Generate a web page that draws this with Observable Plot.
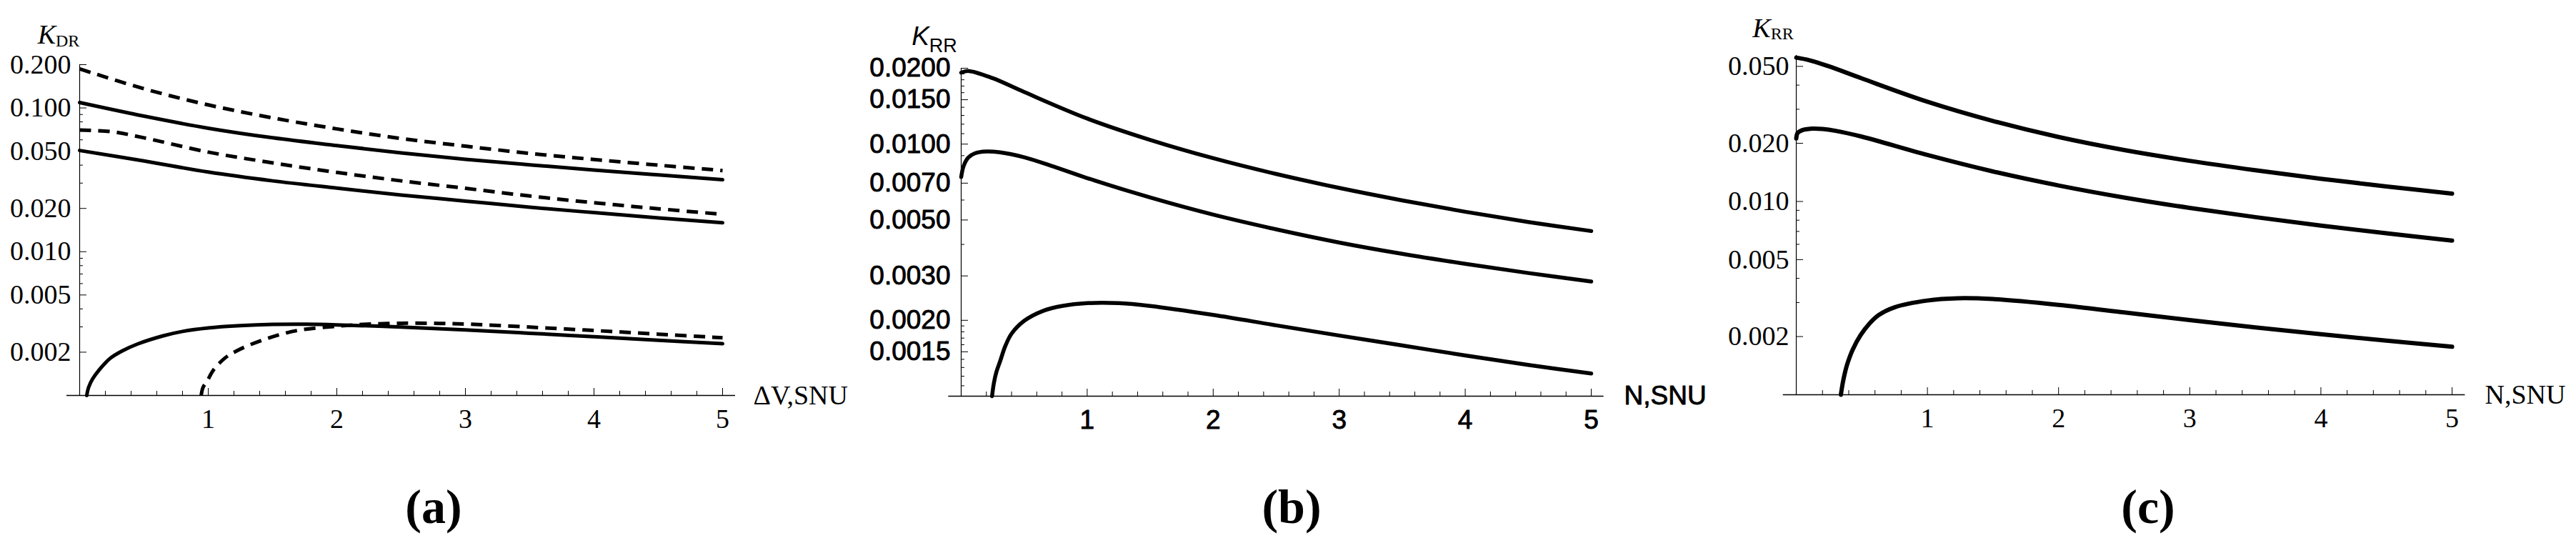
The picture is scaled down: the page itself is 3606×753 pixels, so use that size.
<!DOCTYPE html>
<html>
<head>
<meta charset="utf-8">
<script src="https://cdn.jsdelivr.net/npm/d3@7"></script>
<script src="https://cdn.jsdelivr.net/npm/@observablehq/plot@0.6"></script>
<style>
  html, body { margin: 0; padding: 0; background: #fff; }
  #fig { position: relative; width: 3606px; height: 753px; background: #fff; overflow: hidden; }
  .panel { position: absolute; top: 0; }
  .panel svg { display: block; max-width: none; }
  .cap { position: absolute; top: 675px; width: 240px; text-align: center;
         font-family: "Liberation Serif", "Times New Roman", serif; font-weight: bold;
         font-size: 68px; line-height: 1; color: #000; }
</style>
</head>
<body>
<div id="fig"></div>
<script>
// ---------- shared axis values ----------
const xMajorTicks = [1, 2, 3, 4, 5];
const xMinorTicks = [0.2, 0.4, 0.6, 0.8, 1.2, 1.4, 1.6, 1.8, 2.2, 2.4, 2.6, 2.8,
                     3.2, 3.4, 3.6, 3.8, 4.2, 4.4, 4.6, 4.8];
const xDomain = [0, 5];
const xAxisRange = [-0.1, 5.1];

// ---------- panel (a): K_DR vs ΔV ----------
const aYDomain = [0.001, 0.2];
const aYMajor = [0.002, 0.005, 0.01, 0.02, 0.05, 0.1, 0.2];
const aYMinor = [0.003, 0.004, 0.006, 0.007, 0.008, 0.009, 0.03, 0.04, 0.06, 0.07, 0.08, 0.09];
const aGridX = [0, 0.5, 1, 1.5, 2, 2.5, 3, 3.5, 4, 4.5, 5];
const aDashedUpper = [0.187, 0.136, 0.105, 0.0853, 0.0715, 0.0613, 0.0542, 0.0483, 0.0438, 0.0400, 0.0367];
const aSolidUpper  = [0.109, 0.0877, 0.0723, 0.0620, 0.0547, 0.0487, 0.0439, 0.0402, 0.0370, 0.0342, 0.0317];
const aDashedMidX  = [0, 0.25, 0.5, 1, 1.5, 2, 2.5, 3, 3.5, 4, 4.5, 5];
const aDashedMid   = [0.0702, 0.0683, 0.0620, 0.0493, 0.0415, 0.0356, 0.0311, 0.0276, 0.0244, 0.0219, 0.0199, 0.0182];
const aSolidMid    = [0.0506, 0.0428, 0.0358, 0.0311, 0.0277, 0.0248, 0.0225, 0.0204, 0.0187, 0.0172, 0.0159];
const aSolidLowX   = [0.055, 0.07, 0.1, 0.15, 0.24, 0.33, 0.45, 0.65, 0.8, 1, 1.25, 1.5, 1.75, 2, 2.5, 3, 3.5, 4, 4.5, 5];
const aSolidLow    = [0.001, 0.00114, 0.0013, 0.0015, 0.00182, 0.00204, 0.00228, 0.0026, 0.00279, 0.00295, 0.00306, 0.00312, 0.00313, 0.0031, 0.00299, 0.00286, 0.00271, 0.00256, 0.00242, 0.00229];
const aDashedLowX  = [0.945, 0.96, 0.99, 1.04, 1.13, 1.22, 1.34, 1.5, 1.7, 2, 2.2, 2.5, 2.8, 3, 3.5, 4, 4.5, 5];
const aDashedLow   = [0.001, 0.00114, 0.00125, 0.0015, 0.00182, 0.00204, 0.00228, 0.00256, 0.00284, 0.00303, 0.00312, 0.00318, 0.00317, 0.00314, 0.00299, 0.00283, 0.00267, 0.00252];

// ---------- panel (b): K_RR vs N (sans-serif) ----------
const bYDomain = [0.001, 0.02];
const bYMajor = [0.0015, 0.002, 0.003, 0.005, 0.007, 0.01, 0.015, 0.02];
const bYMinor = [0.0011, 0.0012, 0.0013, 0.0014, 0.0016, 0.0017, 0.0018, 0.0019, 0.004, 0.006,
                 0.008, 0.009, 0.011, 0.012, 0.013, 0.014, 0.016, 0.017, 0.018, 0.019];
const bTopX = [0, 0.06, 0.25, 0.5, 1, 1.5, 2, 2.5, 3, 3.5, 4, 4.5, 5];
const bTop  = [0.0192, 0.0195, 0.01826, 0.01609, 0.01263, 0.01039, 0.00879, 0.00761, 0.0067, 0.00598, 0.00539, 0.00491, 0.00452];
const bMidX = [0, 0.02, 0.057, 0.11, 0.2, 0.3, 0.5, 0.75, 1, 1.5, 2, 2.5, 3, 3.5, 4, 4.5, 5];
const bMid  = [0.0074, 0.0082, 0.00885, 0.0092, 0.00935, 0.00929, 0.00887, 0.00809, 0.00733, 0.00614, 0.00525, 0.00459, 0.00407, 0.00367, 0.00335, 0.00308, 0.00285];
const bLowX = [0.245, 0.26, 0.28, 0.31, 0.35, 0.4, 0.5, 0.65, 0.8, 1, 1.25, 1.5, 2, 2.5, 3, 3.5, 4, 4.5, 5];
const bLow  = [0.001, 0.00113, 0.00125, 0.00138, 0.00158, 0.00177, 0.00199, 0.00218, 0.00228, 0.00234, 0.00234, 0.00228, 0.0021, 0.00191, 0.00174, 0.00159, 0.00145, 0.00133, 0.00123];

// ---------- panel (c): K_RR vs N (serif) ----------
const cYDomain = [0.001, 0.057];
const cYMajor = [0.002, 0.005, 0.01, 0.02, 0.05];
const cYMinor = [0.003, 0.004, 0.006, 0.007, 0.008, 0.009, 0.03, 0.04];
const cTopX = [0, 0.1, 0.25, 0.5, 1, 1.5, 2, 2.5, 3, 3.5, 4, 4.5, 5];
const cTop  = [0.0555, 0.0538, 0.0500, 0.0433, 0.0328, 0.02608, 0.02155, 0.01845, 0.01622, 0.01451, 0.01311, 0.01196, 0.01098];
const cMidX = [0, 0.01, 0.04, 0.12, 0.2, 0.3, 0.5, 1, 1.5, 2, 2.5, 3, 3.5, 4, 4.5, 5];
const cMid  = [0.0212, 0.0226, 0.0233, 0.0238, 0.0237, 0.0232, 0.02165, 0.0174, 0.0143, 0.0121, 0.01048, 0.00926, 0.0083, 0.0075, 0.00684, 0.00627];
const cLowX = [0.34, 0.355, 0.37, 0.39, 0.43, 0.49, 0.56, 0.63, 0.75, 1, 1.23, 1.5, 2, 2.5, 3, 3.5, 4, 4.5, 5];
const cLow  = [0.001, 0.001156, 0.001291, 0.001449, 0.00171, 0.002032, 0.002343, 0.002588, 0.002835, 0.003073, 0.003156, 0.003126, 0.002917, 0.002667, 0.002432, 0.002231, 0.002058, 0.001905, 0.001771];

// ---------- text ----------
const captions = ["(a)", "(b)", "(c)"];
const xLabels = ["\u0394V,SNU", "N,SNU", "N,SNU"];
const kSubs = ["DR", "RR", "RR"];

const SERIF = '"Liberation Serif", "Times New Roman", serif';
const SANS = '"Liberation Sans", Arial, Helvetica, sans-serif';

const panels = [
  { left: 0, width: 1200, mL: 111, mR: 189, mT: 90, mB: 87, yDomain: aYDomain, yMajor: aYMajor, yMinor: aYMinor,
    yFmt: d3.format(".3f"), font: SERIF, fs: 38, sw: 5, labelGap: 12, xLabelDx: 43, textStrokeWidth: 0,
    kLeft: 82, kBase: 61, kSubSize: 24, kSubDy: 4, capCenter: 607,
    curves: [
      {x: aGridX, y: aDashedUpper, dashed: true},
      {x: aGridX, y: aSolidUpper, dashed: false},
      {x: aDashedMidX, y: aDashedMid, dashed: true},
      {x: aGridX, y: aSolidMid, dashed: false},
      {x: aSolidLowX, y: aSolidLow, dashed: false},
      {x: aDashedLowX, y: aDashedLow, dashed: true}
    ]},
  { left: 1200, width: 1200, mL: 145, mR: 173, mT: 95, mB: 86, yDomain: bYDomain, yMajor: bYMajor, yMinor: bYMinor,
    yFmt: d3.format(".4f"), font: SANS, fs: 37, sw: 5.5, labelGap: 15, xLabelDx: 46, textStrokeWidth: 0.9,
    kLeft: 108, kBase: 63, kSubSize: 27, kSubDy: 10, capCenter: 608,
    curves: [
      {x: bTopX, y: bTop, dashed: false},
      {x: bMidX, y: bMid, dashed: false},
      {x: bLowX, y: bLow, dashed: false}
    ]},
  { left: 2400, width: 1206, mL: 114, mR: 174, mT: 77, mB: 88, yDomain: cYDomain, yMajor: cYMajor, yMinor: cYMinor,
    yFmt: d3.format(".3f"), font: SERIF, fs: 38, sw: 6, labelGap: 10, xLabelDx: 46, textStrokeWidth: 0,
    kLeft: 82, kBase: 52, kSubSize: 24, kSubDy: 3, capCenter: 607,
    curves: [
      {x: cTopX, y: cTop, dashed: false},
      {x: cMidX, y: cMid, dashed: false},
      {x: cLowX, y: cLow, dashed: false}
    ]}
];

const fig = document.getElementById("fig");

panels.forEach((p, i) => {
  const H = 640;
  const textOpts = p.textStrokeWidth > 0
    ? {textStroke: "black", textStrokeWidth: p.textStrokeWidth}
    : {};
  const marks = [
    Plot.ruleX([xDomain[0]], {y1: p.yDomain[0], y2: p.yDomain[1], stroke: "black", strokeWidth: 1.2}),
    Plot.ruleY([p.yDomain[0]], {x1: xAxisRange[0], x2: xAxisRange[1], stroke: "black", strokeWidth: 1.3}),
    Plot.axisX({ticks: xMinorTicks, tickSize: -6, tickFormat: () => "", label: null}),
    Plot.axisX({ticks: xMajorTicks, tickSize: -10, tickPadding: 29, tickFormat: d => String(d), label: null,
      fontFamily: p.font, fontSize: p.fs, fill: "black", ...textOpts}),
    Plot.axisY({ticks: p.yMinor, tickSize: -5, tickFormat: () => "", label: null}),
    Plot.axisY({ticks: p.yMajor, tickSize: -10, tickPadding: 10 + p.labelGap, tickFormat: p.yFmt, label: null,
      fontFamily: p.font, fontSize: p.fs, fill: "black", ...textOpts}),
    ...p.curves.map(c => Plot.line(c.x.map((x, j) => ({x, y: c.y[j]})), {
      x: "x", y: "y", stroke: "black", strokeWidth: p.sw,
      strokeDasharray: c.dashed ? "16,10" : null,
      strokeLinecap: c.dashed ? "butt" : "round",
      curve: "catmull-rom"
    })),
    Plot.text([xLabels[i]], {frameAnchor: "bottom-right", dx: p.xLabelDx, textAnchor: "start",
      lineAnchor: "middle", fontSize: p.fs, fontFamily: p.font, fill: "black",
      stroke: p.textStrokeWidth > 0 ? "black" : null, strokeWidth: p.textStrokeWidth})
  ];
  const svg = Plot.plot({
    width: p.width, height: H,
    marginLeft: p.mL, marginRight: p.mR, marginTop: p.mT, marginBottom: p.mB,
    x: {domain: xDomain},
    y: {type: "log", domain: p.yDomain},
    style: {fontFamily: p.font, fontSize: p.fs + "px", color: "black", background: "white", overflow: "visible"},
    marks
  });
  const div = document.createElement("div");
  div.className = "panel";
  div.style.left = p.left + "px";
  div.style.width = p.width + "px";
  div.appendChild(svg);
  fig.appendChild(div);

  // y-axis title K with subscript
  const t = d3.select(svg).append("text")
    .attr("x", p.kLeft).attr("y", p.kBase)
    .attr("font-family", p.font).attr("font-size", p.fs).attr("fill", "black");
  t.append("tspan").attr("font-style", "italic").text("K");
  t.append("tspan").attr("font-size", p.kSubSize).attr("dy", p.kSubDy).text(kSubs[i]);

  // caption
  const cap = document.createElement("div");
  cap.className = "cap";
  cap.style.left = (p.left + p.capCenter - 120) + "px";
  cap.textContent = captions[i];
  fig.appendChild(cap);
});
</script>
</body>
</html>
